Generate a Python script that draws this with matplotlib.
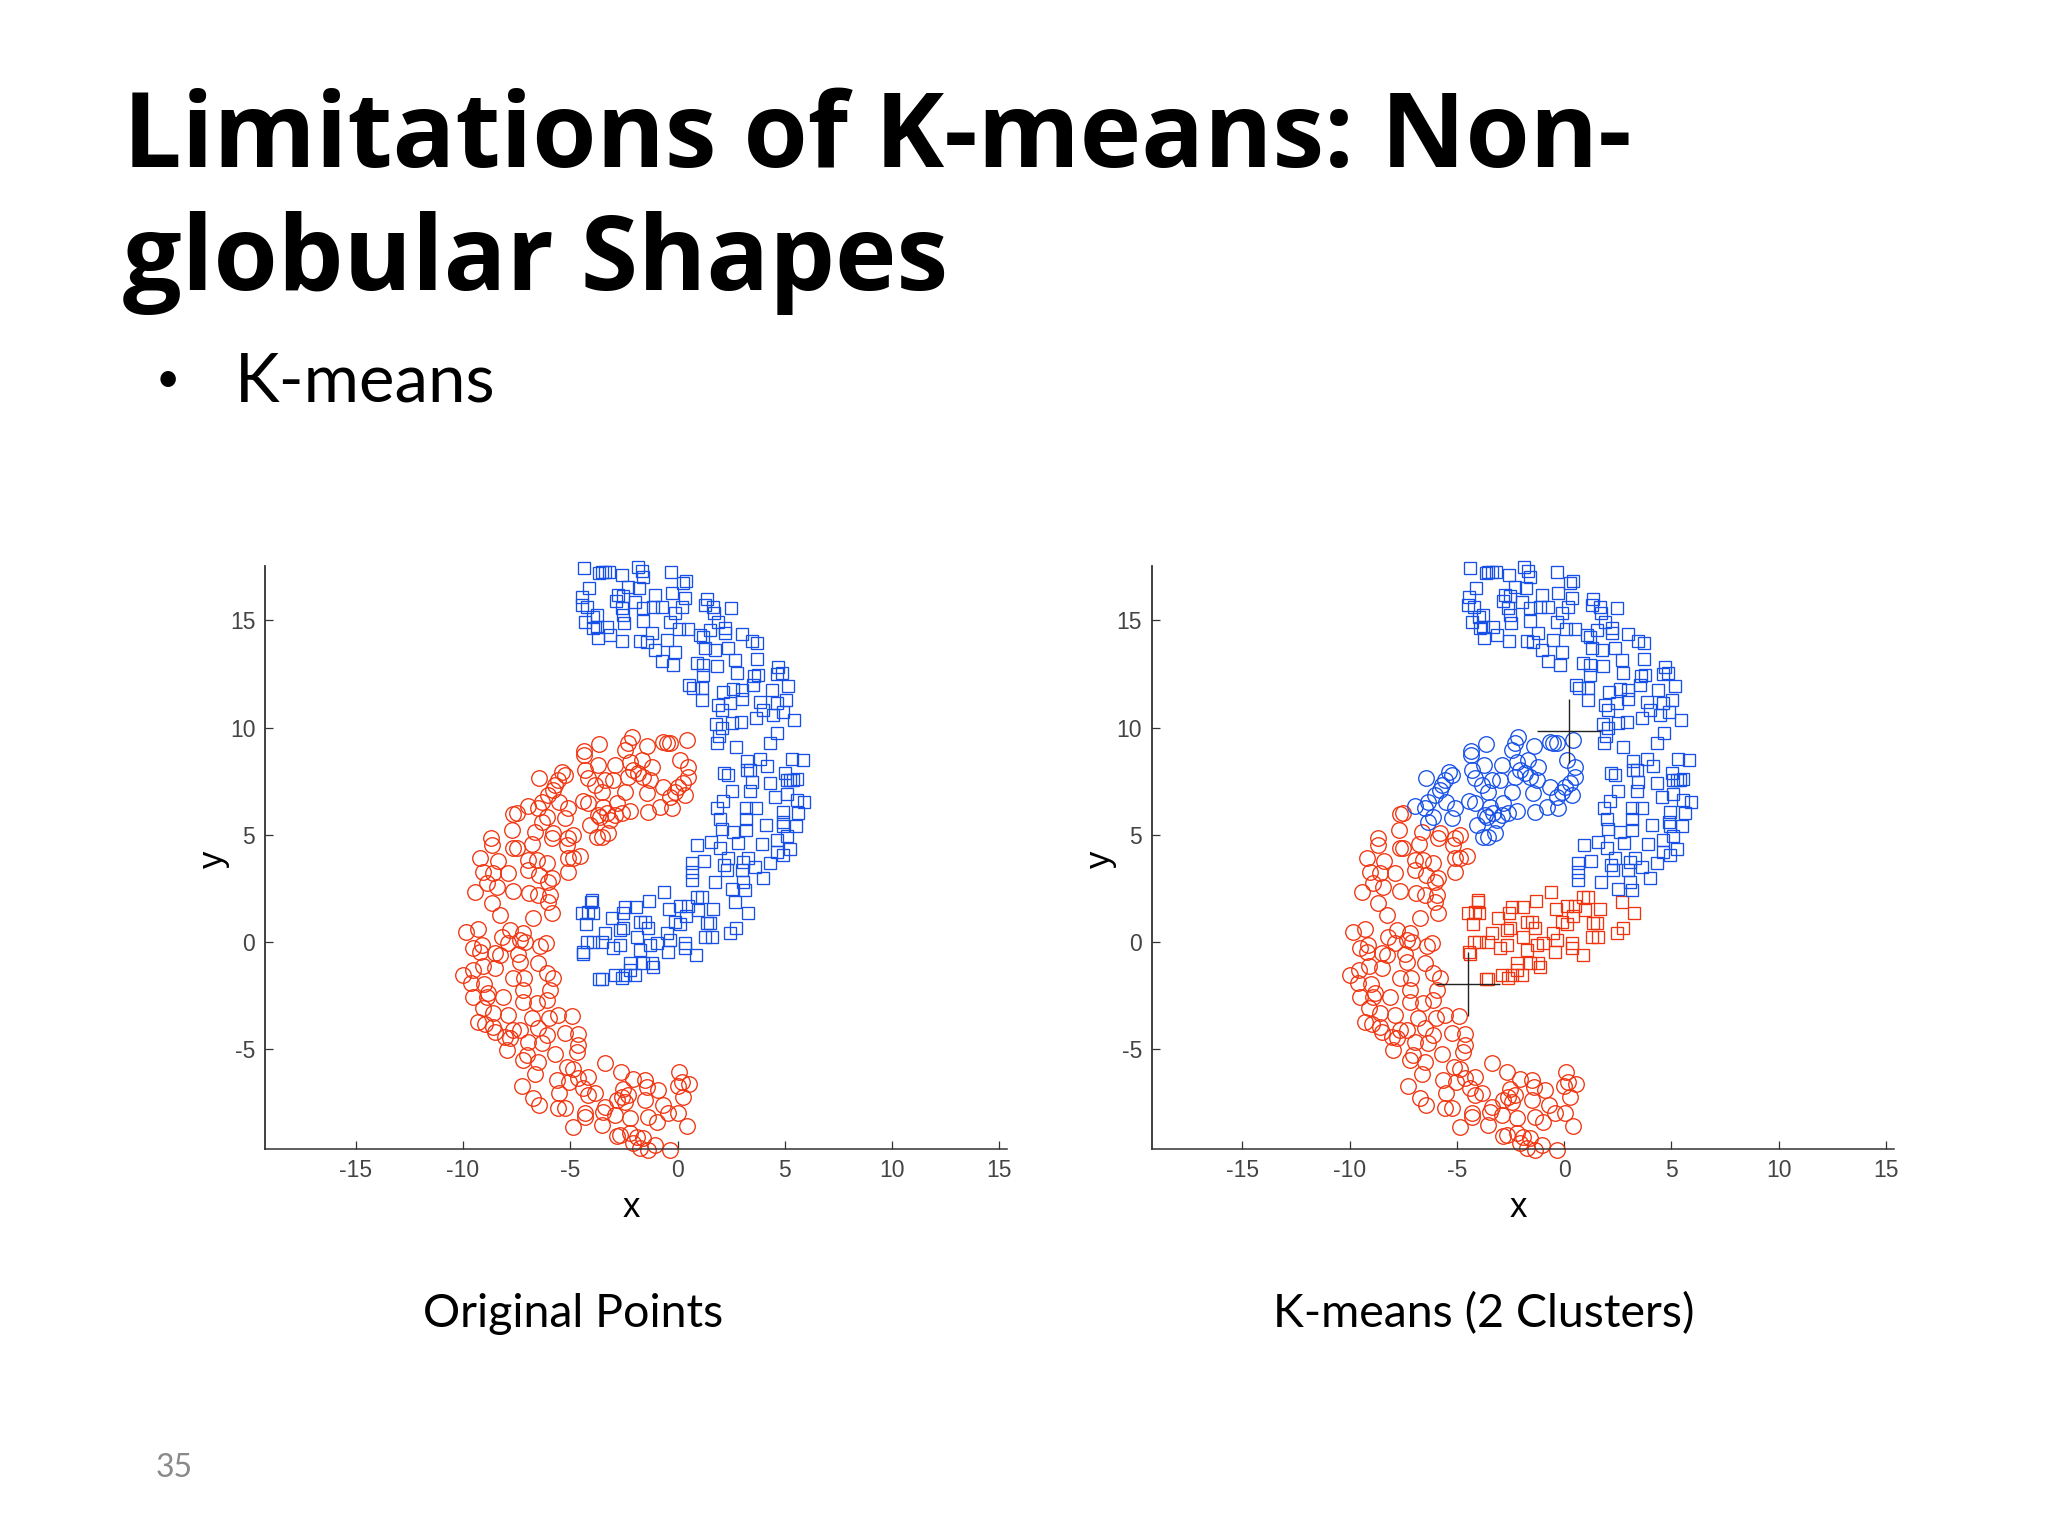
import numpy as np
import matplotlib
matplotlib.use("Agg")
import matplotlib.pyplot as plt

# outer band, drawn as circles
circle_x = [
    -3.64, -4.34, -4.34, -6.44, -5.37, -5.24, -5.56, -5.71, -5.79, -4.31, -4.16, -3.72, -4.42, -4.16, -3.85,
    -6.02, -6.33, -6.49, -6.95, -5.52, -5.09, -5.24, -7.65, -7.50, -3.69, -4.08, -3.77, -6.10, -6.33, -6.64,
    -5.79, -5.87, -4.86, -5.09, -5.17, -4.55, -4.86, -5.09, -5.09, -7.70, -6.77, -7.65, -7.50, -8.69, -8.66,
    -9.21, -8.38, -6.95, -6.57, -6.10, -6.95, -6.44, -5.87, -6.02, -9.05, -8.59, -7.89, -8.90, -8.43, -7.65,
    -9.44, -6.92, -5.94, -6.49, -8.66, -8.28, -6.02, -5.87, -6.72, -9.86, -9.29, -9.52, -9.13, -9.21, -8.51,
    -8.28, -8.20, -7.81, -7.89, -7.19, -7.34, -7.11, -7.42, -7.34, -6.41, -6.15, -6.49, -6.10, -5.79, -9.08,
    -8.51, -9.55, -9.98, -9.63, -9.02, -8.82, -8.90, -9.52, -9.08, -8.12, -7.65, -7.16, -7.19, -7.19, -5.94,
    -6.10, -6.57, -7.89, -5.56, -4.90, -5.98, -6.80, -9.29, -8.59, -8.98, -8.59, -8.51, -7.65, -7.34, -8.04,
    -7.81, -7.96, -6.95, -6.49, -6.10, -6.33, -5.24, -4.62, -4.62, -4.70, -5.71, -7.03, -7.19, -6.49, -6.64,
    -7.27, -6.72, -6.44, -5.14, -4.86, -5.63, -5.06, -4.62, -4.16, -4.39, -5.51, -4.16, -3.85, -5.56, -5.24,
    -4.86, -4.31, -4.31, -3.38, -2.65, -2.06, -1.52, -1.41, -0.89, -2.53, -2.60, -2.29, -2.84, -2.45, -1.52,
    -0.69, -3.46, -3.38, -2.91, -3.54, -2.21, -1.36, -0.97, -0.43, 0.04, 0.43, -2.84, -2.68, -2.21, -1.90,
    -1.59, -1.05, -2.06, -1.36, -0.35, 0.07, 0.00, 0.19, 0.55, 0.27, -1.75, -2.14, -2.29, -2.45, -1.41,
    -0.66, -0.51, -0.35, 0.43, -2.91, -2.21, -1.67, -1.20, 0.12, 0.50, 0.50, 0.27, 0.04, -0.12, 0.35,
    -0.66, -2.06, -1.83, -1.59, -1.28, -2.29, -2.99, -3.38, -2.45, -1.44, -3.54, -2.84, -2.21, -1.36, -0.27,
    -0.82, -0.35, -3.30, -2.91, -2.60, -3.22, -3.54, -3.61, -3.15, -3.46,
]
circle_y = [
    9.22, 8.90, 8.72, 7.63, 7.94, 7.79, 7.55, 7.32, 7.09, 8.02, 7.63, 8.25, 6.59, 6.46, 7.32,
    6.85, 6.54, 6.23, 6.36, 6.54, 6.23, 5.77, 5.97, 6.00, 5.92, 5.45, 4.91, 5.84, 5.61, 5.14,
    5.07, 4.83, 4.99, 4.83, 4.52, 4.02, 3.90, 3.90, 3.28, 5.22, 4.57, 4.37, 4.37, 4.83, 4.52,
    3.90, 3.79, 3.82, 3.82, 3.70, 3.36, 3.12, 2.97, 2.81, 3.28, 3.20, 3.23, 2.74, 2.58, 2.38,
    2.32, 2.27, 2.19, 2.19, 1.80, 1.26, 1.88, 1.34, 1.13, 0.45, 0.59, -0.30, -0.14, -0.45, -0.53,
    -0.61, 0.22, 0.56, -0.06, 0.40, 0.09, 0.02, -0.56, -0.92, -0.17, -0.06, -0.99, -1.43, -1.69, -1.12,
    -1.23, -1.31, -1.54, -1.93, -1.96, -2.39, -2.58, -2.55, -3.09, -2.58, -1.69, -1.69, -2.24, -2.78, -2.24,
    -2.70, -2.86, -3.40, -3.40, -3.45, -3.56, -3.56, -3.71, -3.33, -3.82, -3.95, -4.18, -4.10, -4.10, -4.41,
    -4.49, -5.03, -4.65, -4.02, -4.34, -4.72, -4.26, -4.30, -4.80, -5.14, -5.22, -5.27, -5.50, -5.58, -6.17,
    -6.71, -7.29, -7.60, -5.81, -5.92, -6.43, -6.51, -6.36, -6.28, -6.82, -7.06, -7.13, -7.06, -7.75, -7.75,
    -8.61, -7.99, -8.17, -5.66, -6.05, -6.39, -6.43, -6.74, -6.90, -6.87, -7.21, -7.13, -7.37, -7.44, -7.37,
    -7.60, -7.91, -7.68, -8.07, -8.53, -8.22, -8.14, -8.38, -7.99, -7.99, -8.58, -9.04, -9.00, -8.92, -9.08,
    -9.15, -9.46, -9.39, -9.70, -9.70, -6.08, -6.71, -6.51, -6.64, -7.21, -9.62, 9.57, 9.26, 8.95, 9.14,
    9.34, 9.29, 9.26, 9.42, 8.25, 8.41, 8.48, 8.17, 8.48, 8.17, 7.71, 7.40, 7.24, 7.01, 6.85,
    7.24, 8.02, 7.86, 7.71, 7.55, 7.71, 7.55, 7.55, 7.01, 6.93, 7.01, 6.46, 6.11, 6.08, 6.23,
    6.31, 6.78, 6.00, 5.92, 6.00, 5.07, 4.91, 5.84, 5.69, 6.31,
]

# inner band, drawn as squares
square_x = [
    -4.37, -3.64, -4.11, -4.44, -4.47, -4.20, -3.95, -3.77, -4.31, -3.77, -3.72, -3.92, -3.54, -3.38, -3.18,
    -2.57, -1.86, -1.67, -1.59, -0.32, 0.40, 0.27, -2.29, -1.78, -2.76, -2.53, -2.87, -2.60, -2.53, -1.98,
    -1.05, -0.27, 0.35, 0.19, -0.12, -1.13, -0.74, -1.59, -0.35, -1.59, -2.49, -3.30, -3.15, -2.57, -1.75,
    -1.20, -1.44, -1.05, -0.51, -0.12, 0.09, 0.50, 1.36, 1.28, 1.67, 1.72, 2.48, 1.90, 2.21, 1.05,
    1.52, 1.20, 1.28, 1.75, 2.21, 2.99, 2.37, 3.46, 3.72, 2.68, 3.72, 0.89, 1.20, -0.19, -0.74,
    1.83, 2.76, 1.20, 0.55, 0.71, 1.13, 1.13, 4.70, 4.62, 4.86, 5.17, 3.58, 3.77, 3.54, 4.39,
    2.60, 2.11, 2.99, 2.99, 3.85, 4.62, 5.04, 1.90, 2.06, 2.45, 4.00, 4.47, 4.90, 5.45, 3.64,
    2.95, 2.53, 1.80, 2.06, 4.65, 1.95, 1.86, 4.31, 2.73, 5.32, 5.84, 3.85, 3.22, 3.22, 3.38,
    4.16, 2.18, 2.37, 3.46, 4.31, 5.01, 5.24, 5.09, 5.40, 5.56, 2.53, 3.38, 4.55, 5.09, 2.14,
    5.56, 5.90, 1.86, 3.18, 3.64, 4.93, 5.63, 1.98, 3.18, 4.90, 4.93, 5.51, 4.11, 2.06, 2.60,
    3.18, 5.09, 0.92, 1.56, 1.98, 2.80, 3.92, 4.62, 5.24, 4.62, 4.93, 2.37, 3.30, 0.66, 1.25,
    2.18, 3.07, 3.61, 4.31, 0.66, 0.66, 2.29, 2.99, 4.00, 1.73, 3.07, 2.53, 3.15, -0.61, -1.33,
    1.13, 0.89, 2.68, -1.93, -2.45, -2.56, -3.07, -0.38, 0.12, 0.50, 0.97, 1.67, 3.27, 0.40, -0.12,
    0.12, -1.75, -1.52, -1.36, -2.53, -2.68, 1.52, 1.36, 2.73, 2.45, 1.28, 1.59, -0.51, -3.38, -1.90,
    -0.35, -0.97, -1.28, -2.68, -2.99, -3.54, 0.35, 0.35, -0.43, 0.86, -1.75, -1.59, -1.20, -1.13, -2.21,
    -2.91, -2.21, -2.45, -2.60, -1.98, -3.54, -4.03, -4.00, -4.47, -4.16, -3.95, -4.27, -3.95, -4.20, -4.42,
    -4.39, -3.64,
]
square_y = [
    17.44, 17.22, 16.52, 16.10, 15.71, 15.60, 15.17, 15.24, 14.93, 14.70, 14.16, 14.63, 17.26, 17.26, 17.26,
    17.09, 17.50, 17.31, 17.00, 17.23, 16.83, 16.75, 16.53, 16.49, 16.18, 16.13, 15.91, 15.56, 15.24, 15.87,
    16.18, 16.25, 16.05, 15.63, 15.32, 15.63, 15.60, 15.56, 14.93, 14.97, 14.89, 14.70, 14.31, 14.05, 14.05,
    14.39, 14.00, 13.61, 14.08, 13.54, 14.58, 14.59, 15.98, 15.71, 15.63, 15.32, 15.59, 14.93, 14.62, 14.31,
    14.55, 14.20, 13.69, 13.61, 14.39, 14.36, 13.69, 14.05, 13.92, 13.15, 13.19, 12.99, 12.91, 12.91, 13.12,
    12.88, 12.53, 12.45, 11.98, 11.83, 11.86, 11.28, 12.80, 12.49, 12.53, 11.93, 12.42, 12.45, 11.98, 11.75,
    11.79, 11.67, 11.75, 11.33, 11.20, 11.16, 11.28, 11.05, 10.82, 11.13, 10.82, 10.58, 10.71, 10.35, 10.43,
    10.27, 10.19, 10.15, 9.96, 9.73, 9.60, 9.29, 9.29, 9.11, 8.53, 8.48, 8.53, 8.45, 8.02, 8.02,
    8.22, 7.86, 7.79, 7.47, 7.43, 7.86, 7.55, 7.55, 7.55, 7.60, 7.04, 7.04, 6.78, 6.88, 6.57,
    6.62, 6.51, 6.23, 6.23, 6.23, 6.05, 6.03, 5.72, 5.72, 5.61, 5.41, 5.42, 5.44, 5.25, 5.11,
    5.22, 4.96, 4.52, 4.65, 4.40, 4.60, 4.57, 4.76, 4.32, 4.21, 4.06, 3.90, 3.90, 3.70, 3.78,
    3.59, 3.75, 3.51, 3.70, 3.28, 2.89, 3.36, 3.36, 2.97, 2.78, 2.81, 2.46, 2.42, 2.32, 1.93,
    2.11, 2.11, 1.85, 1.65, 1.62, 1.34, 1.13, 1.52, 1.68, 1.68, 1.49, 1.52, 1.34, 1.21, 0.95,
    0.82, 0.95, 0.95, 0.64, 0.64, 0.56, 0.90, 0.87, 0.64, 0.40, 0.25, 0.25, 0.40, 0.40, 0.25,
    0.09, -0.06, -0.14, -0.14, -0.30, 0.02, -0.06, -0.30, -0.45, -0.61, -0.37, -0.99, -0.99, -1.15, -0.99,
    -1.54, -1.31, -1.54, -1.69, -1.54, -1.72, 1.88, 1.96, 1.34, 1.41, 1.36, 0.82, 0.02, 0.02, -0.45,
    -0.56, -1.72,
]

centroid_x = [0.22, -4.50]
centroid_y = [9.84, -1.97]
ticks = [-15, -10, -5, 0, 5, 10, 15]
y_ticks = [-5, 0, 5, 10, 15]

RED = "#f0340f"
BLUE = "#1650e6"
W, H = 2048, 1536


def nearest_centroid(x, y):
    # True when the point belongs to the upper centroid
    x, y = np.asarray(x), np.asarray(y)
    d0 = (x - centroid_x[0]) ** 2 + (y - centroid_y[0]) ** 2
    d1 = (x - centroid_x[1]) ** 2 + (y - centroid_y[1]) ** 2
    return d0 < d1


def make_axes(fig, left_px):
    ax = fig.add_axes([left_px / W, 1 - 1149 / H, 742 / W, 583 / H])
    ax.set_xlim(-19.23, 15.36)
    ax.set_ylim(-9.65, 17.53)
    for side in ["top", "right"]:
        ax.spines[side].set_visible(False)
    ax.spines["left"].set_color("#333333")
    ax.spines["left"].set_linewidth(1.3)
    ax.spines["bottom"].set_color("#333333")
    ax.spines["bottom"].set_linewidth(1.1)
    ax.set_xticks(ticks)
    ax.set_yticks(y_ticks)
    ax.tick_params(direction="in", length=5.8, width=0.9, color="#333333",
                   labelsize=16.5, labelcolor="#444444", pad=7)
    # plain hyphen like the original tick labels
    ax.set_xticklabels([str(t) for t in ticks], family="Liberation Sans")
    ax.set_yticklabels([str(t) for t in y_ticks], family="Liberation Sans")
    ax.set_xlabel("x", fontsize=25, family="Liberation Sans")
    ax.set_ylabel("y", fontsize=25, family="Liberation Sans")
    ax.xaxis.set_label_coords(0.494, -0.072)
    ax.yaxis.set_label_coords(-0.047, 0.497)
    return ax


def draw_group(ax, x, y, marker, size, color):
    ax.plot(x, y, linestyle="none", marker=marker, markersize=size, markerfacecolor="none",
            markeredgecolor=color, markeredgewidth=0.95, clip_on=False)


fig = plt.figure(figsize=(W / 100, H / 100), dpi=100, facecolor="white")

fig.text(123 / W, 1 - 167 / H, "Limitations of K-means: Non-", fontsize=74.9, fontweight="bold",
         family="Open Sans", color="black")
fig.text(123 / W, 1 - 290 / H, "globular Shapes", fontsize=74.9, fontweight="bold",
         family="Open Sans", color="black")
fig.text(168 / W, 1 - 380 / H, "•", fontsize=30, family="Lato", ha="center", color="black", va="center")
fig.text(235 / W, 1 - 401 / H, "K-means", fontsize=48.5, family="Lato", color="black")
fig.text(573 / W, 1 - 1314 / H, "Original Points", fontsize=33.5, family="Lato", ha="center", va="center")
fig.text(1484 / W, 1 - 1314 / H, "K-means (2 Clusters)", fontsize=33.5, family="Lato", ha="center", va="center")
fig.text(174 / W, 1 - 1468 / H, "35", fontsize=23, family="Lato", ha="center", va="center", color="#8a8a8a")

cx, cy = np.array(circle_x), np.array(circle_y)
sx, sy = np.array(square_x), np.array(square_y)

# left: the true shapes
ax1 = make_axes(fig, 265)
draw_group(ax1, cx, cy, "o", 11.2, RED)
draw_group(ax1, sx, sy, "s", 9.0, BLUE)

# right: same points, coloured by cluster
ax2 = make_axes(fig, 1151.7)
c_up = nearest_centroid(cx, cy)
s_up = nearest_centroid(sx, sy)
draw_group(ax2, cx[~c_up], cy[~c_up], "o", 11.2, RED)
draw_group(ax2, cx[c_up], cy[c_up], "o", 11.2, BLUE)
draw_group(ax2, sx[~s_up], sy[~s_up], "s", 9.0, RED)
draw_group(ax2, sx[s_up], sy[s_up], "s", 9.0, BLUE)
ax2.plot(centroid_x, centroid_y, linestyle="none", marker="+", markersize=46,
         markeredgewidth=1.0, color="#222222", zorder=5)

fig.savefig("out.png", dpi=100, facecolor="white")
